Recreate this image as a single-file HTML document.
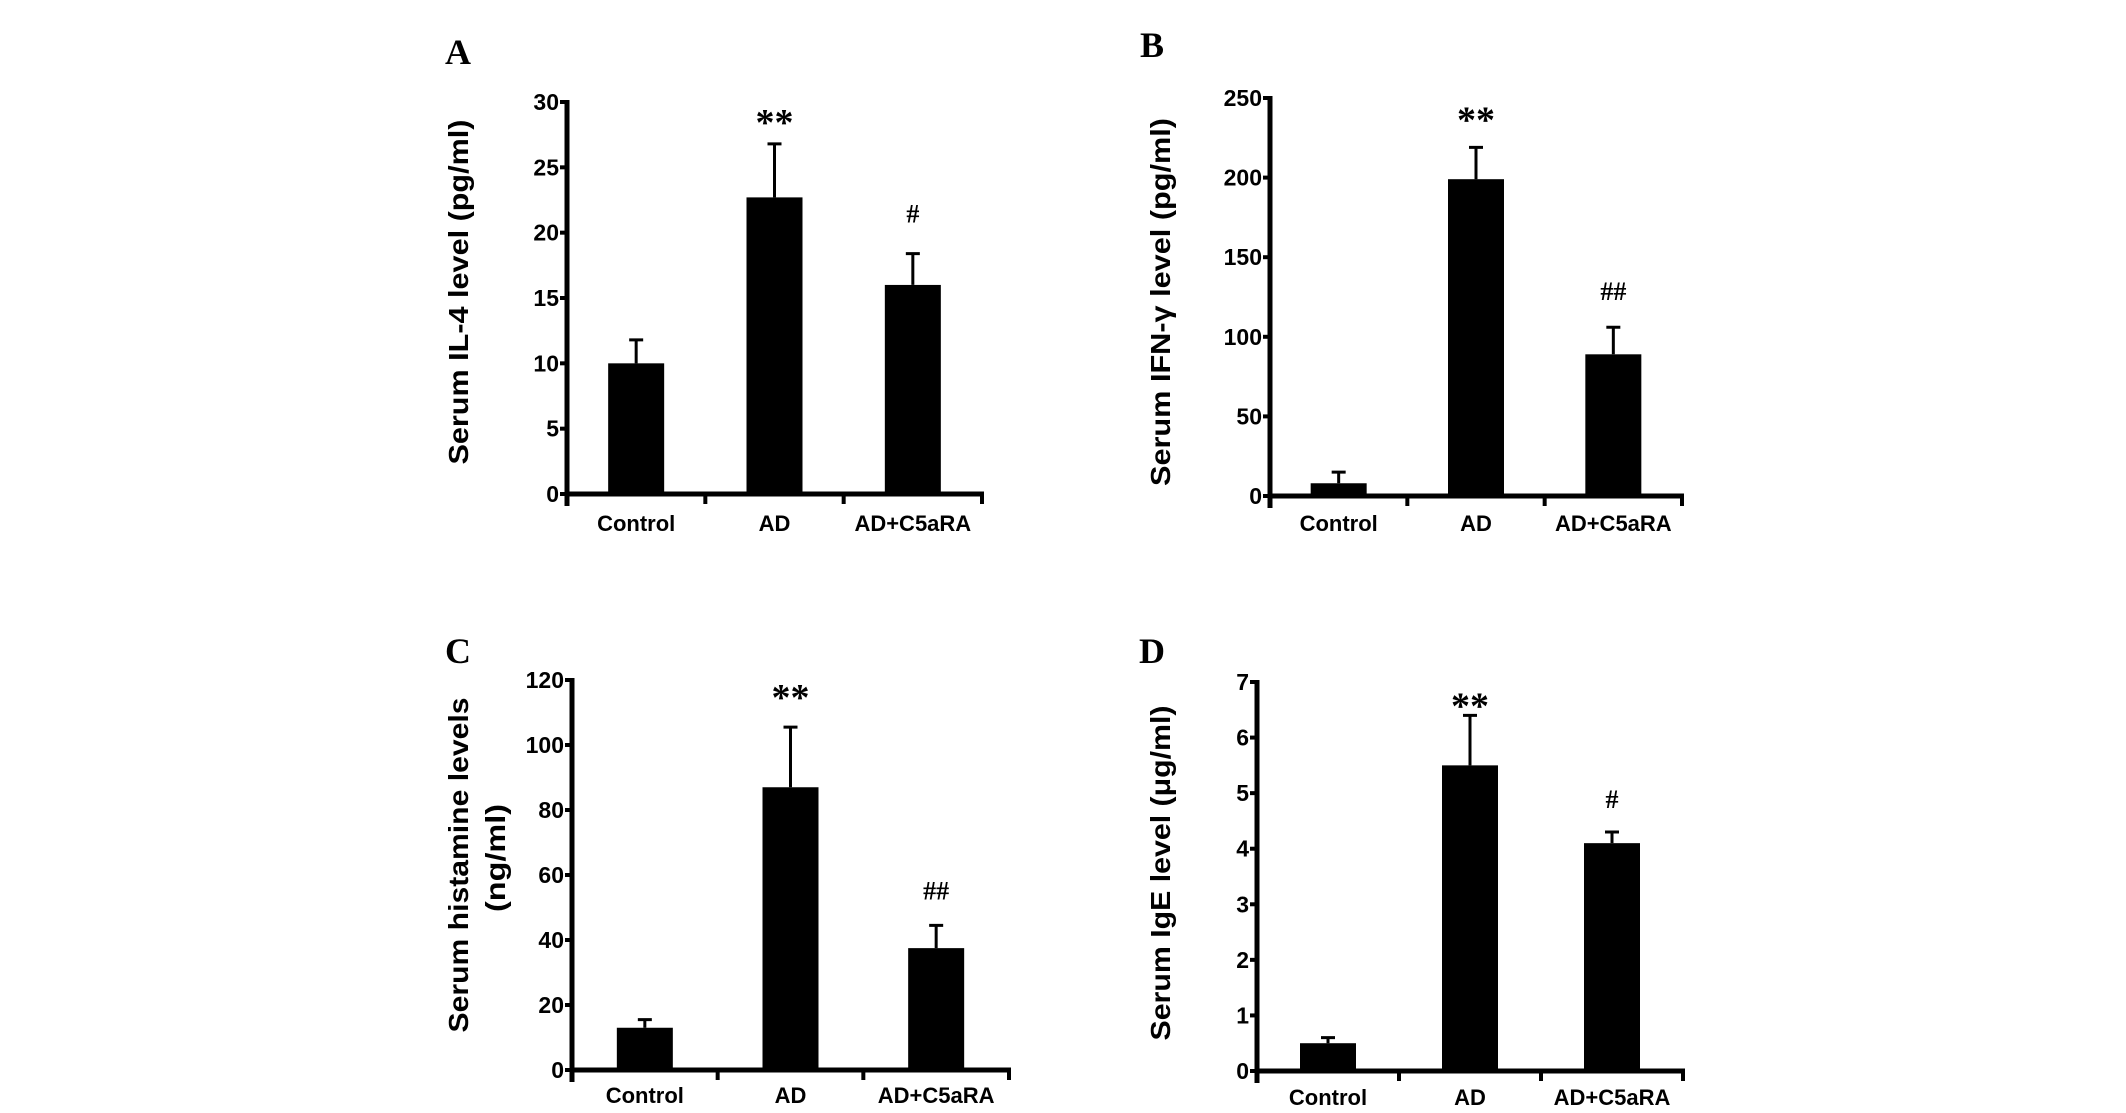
<!DOCTYPE html>
<html><head><meta charset="utf-8"><style>
html,body{margin:0;padding:0;background:#fff;overflow:hidden;}
svg{display:block;}
text{font-family:"Liberation Sans",sans-serif;font-weight:bold;fill:#000;}
.pl{font-family:"Liberation Serif",serif;}
</style></head><body>
<svg id="fig" width="2126" height="1113" viewBox="0 0 2126 1113" xmlns="http://www.w3.org/2000/svg"></svg>
<script>
const categories = ["Control", "AD", "AD+C5aRA"];
const il4Values = [10, 22.7, 16];
const il4Err = [11.8, 26.8, 18.4];
const il4Ticks = [0, 5, 10, 15, 20, 25, 30];
const il4Marks = ["", "**", "#"];
const ifnValues = [8, 199, 89];
const ifnErr = [15, 219, 106];
const ifnTicks = [0, 50, 100, 150, 200, 250];
const ifnMarks = ["", "**", "##"];
const histValues = [13, 87, 37.5];
const histErr = [15.5, 105.5, 44.5];
const histTicks = [0, 20, 40, 60, 80, 100, 120];
const histMarks = ["", "**", "##"];
const igeValues = [0.5, 5.5, 4.1];
const igeErr = [0.6, 6.4, 4.3];
const igeTicks = [0, 1, 2, 3, 4, 5, 6, 7];
const igeMarks = ["", "**", "#"];

const NS = "http://www.w3.org/2000/svg";
const svg = document.getElementById("fig");
function mk(tag, attrs, parent) {
  const e = document.createElementNS(NS, tag);
  for (const k in attrs) e.setAttribute(k, attrs[k]);
  (parent || svg).appendChild(e);
  return e;
}

const panels = [
  {id:"a", letter:"A", lx:445, ly:64, ax:567, top:102, base:494, xend:982, values:il4Values, err:il4Err, ticks:il4Ticks, marks:il4Marks, gaps:[0,26,40],
   title:["Serum IL-4 level (pg/ml)"], tx:[468], tlen:[345], tcy:[292], catY:531},
  {id:"b", letter:"B", lx:1140, ly:57, ax:1270, top:98, base:496, xend:1682, values:ifnValues, err:ifnErr, ticks:ifnTicks, marks:ifnMarks, gaps:[0,32,36],
   title:["Serum IFN-\u03b3 level (pg/ml)"], tx:[1170], tlen:[368], tcy:[302], catY:531},
  {id:"c", letter:"C", lx:445, ly:663, ax:572, top:680, base:1070, xend:1009, values:histValues, err:histErr, ticks:histTicks, marks:histMarks, gaps:[0,34,35],
   title:["Serum histamine levels","(ng/ml)"], tx:[468, 505], tlen:[335, 108], tcy:[865, 858], catY:1103},
  {id:"d", letter:"D", lx:1139, ly:663, ax:1257, top:682, base:1071, xend:1683, values:igeValues, err:igeErr, ticks:igeTicks, marks:igeMarks, gaps:[0,14,33],
   title:["Serum IgE level (\u03bcg/ml)"], tx:[1170], tlen:[335], tcy:[873], catY:1105}
];

panels.forEach(p => {
  const g = mk("g", {});
  
  
  const maxT = p.ticks[p.ticks.length - 1];
  const y = v => p.base - (v / maxT) * (p.base - p.top);
  const span = (p.xend - p.ax) / categories.length;
  const xc = i => p.ax + span * (i + 0.5);
  const bw = 56;

  const L = mk("text", {x:p.lx, y:p.ly, "font-size":36, class:"pl"}, g);
  L.textContent = p.letter;
  
  

  p.values.forEach((v, i) => {
    const r = mk("rect", {x:xc(i) - bw/2, y:y(v), width:bw, height:p.base - y(v), fill:"#000"}, g);
    
    
    const e = mk("path", {d:`M${xc(i)} ${y(v)} V${y(p.err[i])} M${xc(i)-7} ${y(p.err[i])} H${xc(i)+7}`, stroke:"#000", "stroke-width":3, fill:"none"}, g);
    
    
    if (p.marks[i]) {
      const isStar = p.marks[i].indexOf("*") >= 0;
      const cy = y(p.err[i]) - p.gaps[i];
      const t = mk("text", {x:xc(i), y: isStar ? cy + 17 : cy + 9, "text-anchor":"middle", "font-size": isStar ? 38 : 26, class:"pl"}, g);
      t.textContent = p.marks[i];
      
      
    }
    const c = mk("text", {x:xc(i), y:p.catY, "text-anchor":"middle", "font-size":22}, g);
    c.textContent = categories[i];
    
    
  });

  const ya = mk("line", {x1:p.ax, y1:p.top - 2, x2:p.ax, y2:p.base + 12, stroke:"#000", "stroke-width":5}, g);
  
  
  const xa = mk("line", {x1:p.ax - 2, y1:p.base, x2:p.xend + 2, y2:p.base, stroke:"#000", "stroke-width":5}, g);
  
  
  for (let k = 1; k <= categories.length; k++) {
    const tx = p.ax + span * k;
    const tk = mk("line", {x1:tx, y1:p.base, x2:tx, y2:p.base + 10, stroke:"#000", "stroke-width":4}, g);
    
    
  }
  p.ticks.forEach(t => {
    const tk = mk("line", {x1:p.ax - 7, y1:y(t), x2:p.ax, y2:y(t), stroke:"#000", "stroke-width":4}, g);
    
    
    const tl = mk("text", {x:p.ax - 8, y:y(t) + 8, "text-anchor":"end", "font-size":23}, g);
    tl.textContent = t;
    
    
  });
  p.title.forEach((s, j) => {
    const tt = mk("text", {x:0, y:0, "text-anchor":"middle", "font-size":28, textLength:p.tlen[j], lengthAdjust:"spacingAndGlyphs",
      transform:`translate(${p.tx[j]},${p.tcy[j]}) rotate(-90)`}, g);
    tt.textContent = s;
    
    
  });
});
</script>
</body></html>
